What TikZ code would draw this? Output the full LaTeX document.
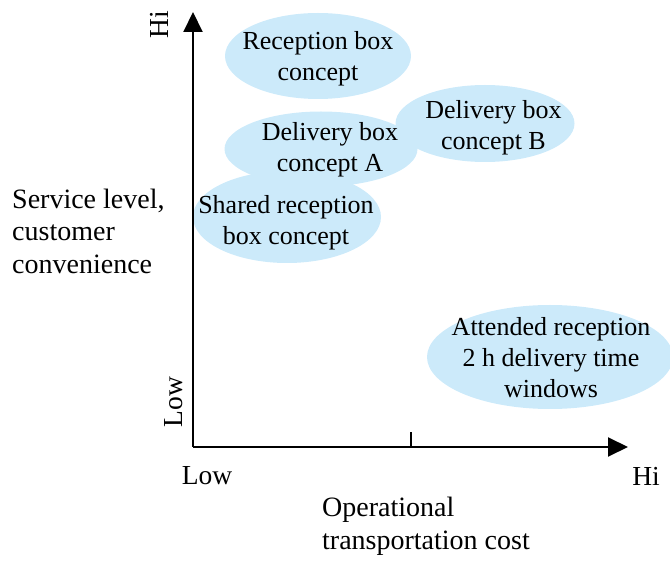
\documentclass[tikz,border=0pt]{standalone}
\usepackage{fontspec}
\setmainfont{Liberation Serif}
\usetikzlibrary{shapes.geometric,arrows.meta}
\definecolor{bubblefill}{RGB}{204,234,250}
\begin{document}
\begin{tikzpicture}[x=1pt,y=-1pt,
  bubble/.style={ellipse, fill=bubblefill, inner sep=0pt},
  btext/.style={align=center, inner sep=0pt, font=\fontsize{26}{31}\selectfont},
  lbl/.style={inner sep=0pt, font=\fontsize{27.5}{31}\selectfont},
  axis/.style={line width=2pt, -{Triangle[length=20pt,width=19pt]}}]
\useasboundingbox (0,0) rectangle (670,561);
\clip (0,0) rectangle (670,561);

% concept bubbles
\node[bubble, minimum width=186pt, minimum height=86pt] (rbox) at (318,56) {};
\node[bubble, minimum width=193pt, minimum height=75pt] (dboxa) at (321,149) {};
\node[bubble, minimum width=179pt, minimum height=77pt] (dboxb) at (485,123.5) {};
\node[bubble, minimum width=188pt, minimum height=92pt] (shared) at (287,217) {};
\node[bubble, minimum width=246pt, minimum height=104pt] (attended) at (550,357) {};

\node[btext] (rboxt) at (318,59) {Reception box\\concept};
\node[btext] (dboxat) at (330,149.5) {Delivery box\\concept A};
\node[btext] (dboxbt) at (493.5,128) {Delivery box\\concept B};
\node[btext] (sharedt) at (286,223) {Shared reception\\box concept};
\node[btext] (attendedt) at (551,357.5) {Attended reception\\2 h delivery time\\windows};

% axes
\coordinate (origin) at (193,447);
\coordinate (ytip) at (193,12);
\coordinate (xtip) at (628,447);
\coordinate (tickbase) at (411,447);
\coordinate (ticktop) at (411,432);
\draw[axis] (origin) -- (ytip);
\draw[axis] (origin) -- (xtip);
\draw[line width=1.5pt] (tickbase) -- (ticktop);

% axis labels
\node[lbl, rotate=90] (yhi) at (159,25) {Hi};
\node[lbl, rotate=90] (ylow) at (174,402) {Low};
\node[lbl] (xlow) at (207,476) {Low};
\node[lbl] (xhi) at (646,476) {Hi};
\node[lbl, align=left, anchor=west, font=\fontsize{28}{33}\selectfont] (xtitle) at (322,526.5) {Operational\\transportation cost};
\node[lbl, align=left, anchor=west, font=\fontsize{28}{32.5}\selectfont] (ytitle) at (12,231) {Service level,\\customer\\convenience};
\end{tikzpicture}
\end{document}
